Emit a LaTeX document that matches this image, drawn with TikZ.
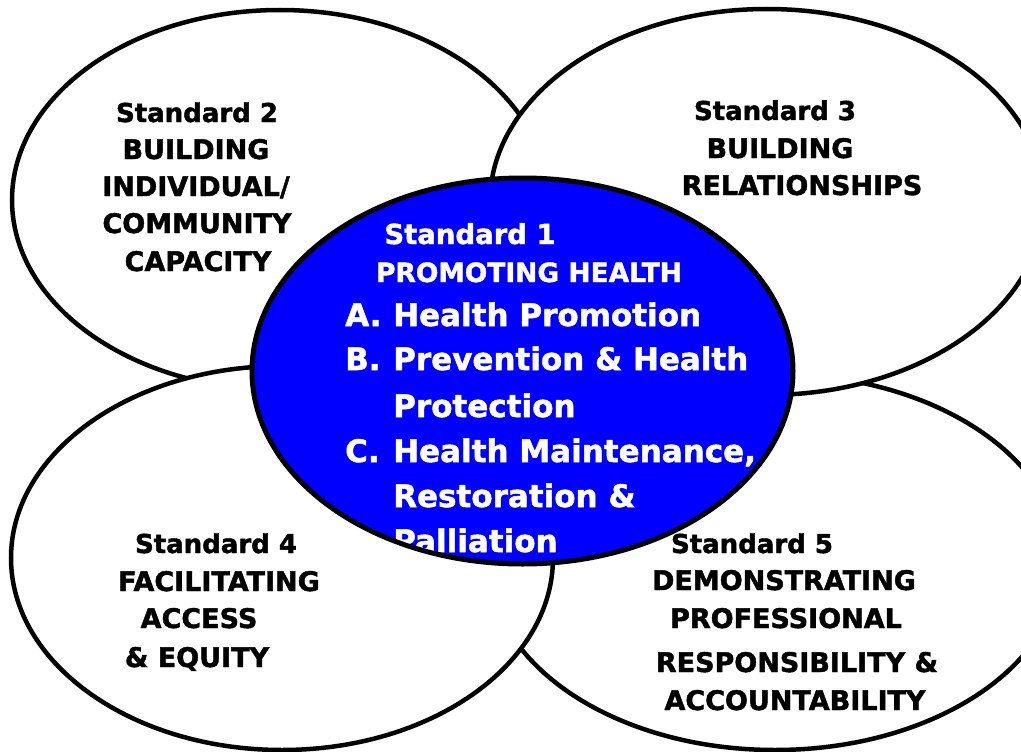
\documentclass[tikz,border=0pt]{standalone}
\usepackage{fontspec}
\setmainfont{DejaVu Sans}[BoldFeatures={FakeBold=1.6}]
\definecolor{coreblue}{RGB}{0,0,255}
\tikzset{
  ring/.style={draw=black, line width=4.5pt, fill=white},
  stdline/.style={font=\bfseries\fontsize{26}{30}\selectfont, text=black, inner sep=0pt, anchor=base},
  capline/.style={font=\bfseries\fontsize{27}{30}\selectfont, text=black, inner sep=0pt, anchor=base},
  wstd/.style={font=\bfseries\fontsize{27.5}{30}\selectfont, text=white, inner sep=0pt, anchor=base},
  wcap/.style={font=\bfseries\fontsize{26.5}{30}\selectfont, text=white, inner sep=0pt, anchor=base},
  witem/.style={font=\bfseries\fontsize{31}{34}\selectfont, text=white, inner sep=0pt, anchor=base west},
}
\newcommand{\itemlab}[1]{\makebox[48pt][l]{#1}}
\begin{document}
\begin{tikzpicture}[x=1pt,y=-1pt]
\useasboundingbox (0,0) rectangle (1021,752);
% outer circles (drawing order gives the overlaps)
\draw[ring] (775,562) ellipse [x radius=286, y radius=188];
\draw[ring] (280,200) ellipse [x radius=268, y radius=190];
\draw[ring] (282,558) ellipse [x radius=271, y radius=192];
\draw[ring] (767,202) ellipse [x radius=277, y radius=193];
% central circle
\fill[coreblue] (522.5,371) ellipse [x radius=270.5, y radius=193];

% Standard 2
\node[stdline] (s2a) at (197,122) {Standard 2};
\node[capline] (s2b) at (196,159) {BUILDING};
\node[capline] (s2c) at (196,196) {INDIVIDUAL/};
\node[capline] (s2d) at (197,233) {COMMUNITY};
\node[capline] (s2e) at (198,271) {CAPACITY};
% Standard 3
\node[stdline] (s3a) at (775,120) {Standard 3};
\node[capline] (s3b) at (780,158) {BUILDING};
\node[capline] (s3c) at (802,195) {RELATIONSHIPS};
% Standard 4
\node[stdline] (s4a) at (216,553) {Standard 4};
\node[capline] (s4b) at (219,591) {FACILITATING};
\node[capline] (s4c) at (199,628) {ACCESS};
\node[capline] (s4d) at (197,667) {\&~EQUITY};
% Standard 5
\node[stdline] (s5a) at (752,553) {Standard 5};
\node[capline] (s5b) at (784,590) {DEMONSTRATING};
\node[capline] (s5c) at (786,628) {PROFESSIONAL};
\node[capline] (s5d) at (797,672) {RESPONSIBILITY \&};
\node[capline] (s5e) at (795,710) {ACCOUNTABILITY};
% Standard 1
\node[wstd] (s1a) at (470,244) {Standard 1};
\node[wcap] (s1b) at (529,282) {PROMOTING HEALTH};
\node[witem] (s1c) at (345,326) {\itemlab{A.}Health Promotion};
\node[witem] (s1d) at (345,370) {\itemlab{B.}Prevention \& Health};
\node[witem] (s1e) at (393,417) {Protection};
\node[witem] (s1f) at (345,462) {\itemlab{C.}Health Maintenance,};
\node[witem] (s1g) at (393,507) {Restoration \&};
\node[witem] (s1h) at (393,552) {Palliation};
% outline of central circle over its text
\draw[line width=5pt] (522.5,371) ellipse [x radius=270.5, y radius=193];
\end{tikzpicture}
\end{document}
